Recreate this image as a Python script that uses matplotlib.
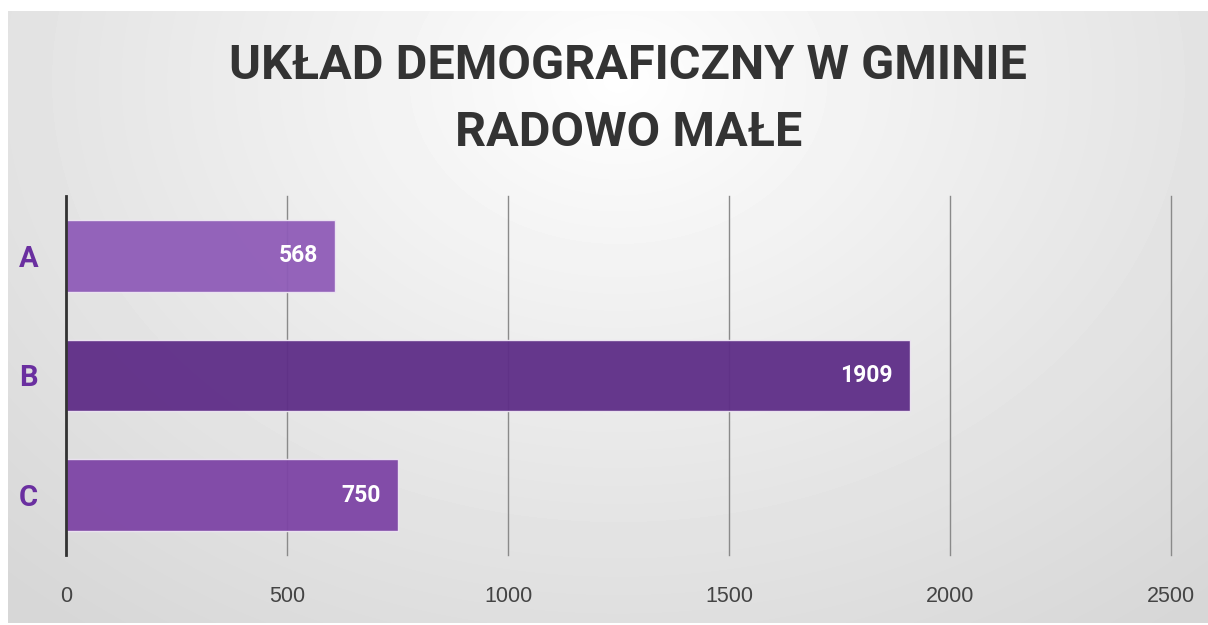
import matplotlib.pyplot as plt
import numpy as np

# dane z wykresu
kategorie = ["A", "B", "C"]
dlugosci = [608, 1909, 750]
etykiety = ["568", "1909", "750"]    # liczby wpisane na slupkach
kolory = ["#8f5cb8", "#5e2d87", "#7d44a5"]
ticki_x = [0, 500, 1000, 1500, 2000, 2500]
tytul = ["UKŁAD DEMOGRAFICZNY W GMINIE", "RADOWO MAŁE"]

W, H = 1208, 625
fig = plt.figure(figsize=(W / 100, H / 100), dpi=100)
fig.patch.set_facecolor("white")

# tlo z gradientem (jasny srodek u gory)
bg = fig.add_axes([8 / W, 2 / H, 1200 / W, 612 / H])
yy, xx = np.mgrid[0:612, 0:1200]
r = np.sqrt(((xx - 610) / 900.0) ** 2 + ((yy - 70) / 700.0) ** 2)
szary = 1.0 - 0.16 * np.clip(r, 0, 1) ** 0.9
bg.imshow(szary, cmap="gray", vmin=0, vmax=1, aspect="auto")
bg.axis("off")

for i, linia in enumerate(tytul):
    fig.text(0.52, 1 - (66 + 67 * i) / H, linia, ha="center", va="center",
             fontsize=35, fontweight="bold", color="#333333", family="Roboto")

ax = fig.add_axes([66 / W, 70 / H, 1105 / W, 359 / H])
ax.patch.set_alpha(0)
y = np.arange(len(kategorie))
slupki = ax.barh(y, dlugosci, height=0.6, color=kolory, alpha=0.95,
                 edgecolor="#eee6f3", linewidth=1, zorder=3)
for s, t in zip(slupki, etykiety):
    ax.text(s.get_width() - 38, s.get_y() + s.get_height() / 2, t,
            ha="right", va="center", color="white", fontsize=16.5,
            fontweight="bold", family="Roboto", zorder=4)

ax.set_xlim(0, 2500)
ax.set_ylim(2.5, -0.5)
ax.set_xticks(ticki_x)
ax.set_xticklabels([str(v) for v in ticki_x], fontsize=15.5, color="#444444",
                   family="Liberation Sans")
ax.set_yticks(y)
ax.set_yticklabels(kategorie, fontsize=21, fontweight="bold", color="#6a2fa0",
                   family="Roboto")
ax.tick_params(axis="x", length=0, pad=22)
ax.tick_params(axis="y", length=0, pad=20)
ax.grid(axis="x", color="#8a8a8a", linewidth=1, zorder=1)
for linia in ax.get_xgridlines():
    linia.set_clip_on(False)
ax.set_axisbelow(True)
for k in ["top", "right", "bottom"]:
    ax.spines[k].set_visible(False)
ax.spines["left"].set_color("#333333")
ax.spines["left"].set_linewidth(2)
ax.spines["left"].set_zorder(5)

fig.savefig("out.png", dpi=100)
